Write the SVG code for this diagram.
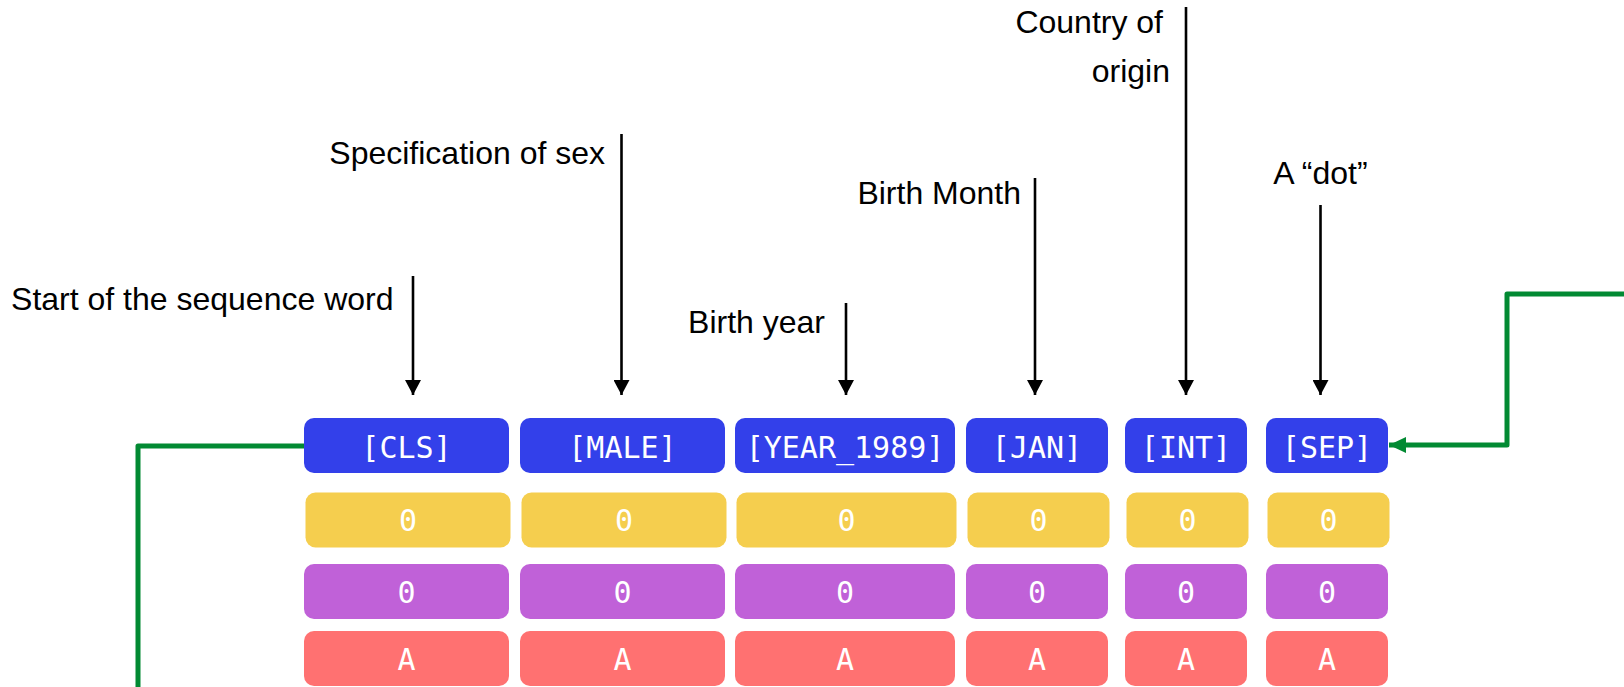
<svg xmlns="http://www.w3.org/2000/svg" width="1624" height="687" viewBox="0 0 1624 687">
  <style>
    .label { font-family: "Liberation Sans", Arial, sans-serif; font-size: 32px; fill: #000; }
    .tok { font-family: "DejaVu Sans Mono", "Liberation Mono", monospace; font-size: 30px; fill: #fff; text-anchor: middle; }
    .blue { fill: #3340ea; }
    .yellow { fill: #f5ce4e; }
    .purple { fill: #c061d8; }
    .red { fill: #ff7171; }
    .pointer { stroke: #000; stroke-width: 2.6; fill: none; }
    .link { stroke: #028a33; stroke-width: 5; fill: none; stroke-linejoin: round; }
  </style>
  <defs>
    <marker id="head-black" markerWidth="16" markerHeight="16" refX="15" refY="8" orient="auto" markerUnits="userSpaceOnUse">
      <path d="M0,0 L15,8 L0,16 Z" fill="#000"/>
    </marker>
    <marker id="head-green" markerWidth="18" markerHeight="18" refX="17" refY="9" orient="auto" markerUnits="userSpaceOnUse">
      <path d="M0,1 L17,9 L0,17 Z" fill="#028a33"/>
    </marker>
  </defs>
  <rect width="1624" height="687" fill="#fff"/>

  <!-- annotation labels -->
  <g id="label-start"><text class="label" x="393.5" y="310" text-anchor="end">Start of the sequence word</text></g>
  <g id="label-sex"><text class="label" x="605" y="164" text-anchor="end">Specification of sex</text></g>
  <g id="label-year"><text class="label" x="825" y="333" text-anchor="end">Birth year</text></g>
  <g id="label-month"><text class="label" x="1021" y="204" text-anchor="end">Birth Month</text></g>
  <g id="label-country">
    <text class="label" x="1163" y="33" text-anchor="end">Country of</text>
    <text class="label" x="1170" y="82" text-anchor="end">origin</text>
  </g>
  <g id="label-dot"><text class="label" x="1320.5" y="184" text-anchor="middle">A “dot”</text></g>

  <!-- connectors -->
  <g id="connectors">
    <line class="pointer" x1="413" y1="276" x2="413" y2="395" marker-end="url(#head-black)"/>
    <line class="pointer" x1="621.5" y1="134" x2="621.5" y2="395" marker-end="url(#head-black)"/>
    <line class="pointer" x1="846" y1="303" x2="846" y2="395" marker-end="url(#head-black)"/>
    <line class="pointer" x1="1035" y1="178" x2="1035" y2="395" marker-end="url(#head-black)"/>
    <line class="pointer" x1="1186" y1="7" x2="1186" y2="395" marker-end="url(#head-black)"/>
    <line class="pointer" x1="1320.5" y1="205" x2="1320.5" y2="395" marker-end="url(#head-black)"/>
    <path class="link" d="M304,446 H138 V690"/>
    <path class="link" d="M1630,294 H1507 V445 H1389" marker-end="url(#head-green)"/>
  </g>

  <!-- token columns -->
  <g id="col-cls">
    <rect class="blue" x="304" y="418" width="205" height="55" rx="10"/>
    <text class="tok" x="406.5" y="458">[CLS]</text>
    <rect class="yellow" x="305.5" y="492.5" width="205" height="55" rx="10"/>
    <text class="tok" x="408" y="531">0</text>
    <rect class="purple" x="304" y="564" width="205" height="55" rx="10"/>
    <text class="tok" x="406.5" y="602.5">0</text>
    <rect class="red" x="304" y="631" width="205" height="55" rx="10"/>
    <text class="tok" x="406.5" y="669.5">A</text>
  </g>
  <g id="col-male">
    <rect class="blue" x="520" y="418" width="205" height="55" rx="10"/>
    <text class="tok" x="622.5" y="458">[MALE]</text>
    <rect class="yellow" x="521.5" y="492.5" width="205" height="55" rx="10"/>
    <text class="tok" x="624" y="531">0</text>
    <rect class="purple" x="520" y="564" width="205" height="55" rx="10"/>
    <text class="tok" x="622.5" y="602.5">0</text>
    <rect class="red" x="520" y="631" width="205" height="55" rx="10"/>
    <text class="tok" x="622.5" y="669.5">A</text>
  </g>
  <g id="col-year">
    <rect class="blue" x="735" y="418" width="220" height="55" rx="10"/>
    <text class="tok" x="845" y="458">[YEAR_1989]</text>
    <rect class="yellow" x="736.5" y="492.5" width="220" height="55" rx="10"/>
    <text class="tok" x="846.5" y="531">0</text>
    <rect class="purple" x="735" y="564" width="220" height="55" rx="10"/>
    <text class="tok" x="845" y="602.5">0</text>
    <rect class="red" x="735" y="631" width="220" height="55" rx="10"/>
    <text class="tok" x="845" y="669.5">A</text>
  </g>
  <g id="col-jan">
    <rect class="blue" x="966" y="418" width="142" height="55" rx="10"/>
    <text class="tok" x="1037" y="458">[JAN]</text>
    <rect class="yellow" x="967.5" y="492.5" width="142" height="55" rx="10"/>
    <text class="tok" x="1038.5" y="531">0</text>
    <rect class="purple" x="966" y="564" width="142" height="55" rx="10"/>
    <text class="tok" x="1037" y="602.5">0</text>
    <rect class="red" x="966" y="631" width="142" height="55" rx="10"/>
    <text class="tok" x="1037" y="669.5">A</text>
  </g>
  <g id="col-int">
    <rect class="blue" x="1125" y="418" width="122" height="55" rx="10"/>
    <text class="tok" x="1186" y="458">[INT]</text>
    <rect class="yellow" x="1126.5" y="492.5" width="122" height="55" rx="10"/>
    <text class="tok" x="1187.5" y="531">0</text>
    <rect class="purple" x="1125" y="564" width="122" height="55" rx="10"/>
    <text class="tok" x="1186" y="602.5">0</text>
    <rect class="red" x="1125" y="631" width="122" height="55" rx="10"/>
    <text class="tok" x="1186" y="669.5">A</text>
  </g>
  <g id="col-sep">
    <rect class="blue" x="1266" y="418" width="122" height="55" rx="10"/>
    <text class="tok" x="1327" y="458">[SEP]</text>
    <rect class="yellow" x="1267.5" y="492.5" width="122" height="55" rx="10"/>
    <text class="tok" x="1328.5" y="531">0</text>
    <rect class="purple" x="1266" y="564" width="122" height="55" rx="10"/>
    <text class="tok" x="1327" y="602.5">0</text>
    <rect class="red" x="1266" y="631" width="122" height="55" rx="10"/>
    <text class="tok" x="1327" y="669.5">A</text>
  </g>
</svg>
